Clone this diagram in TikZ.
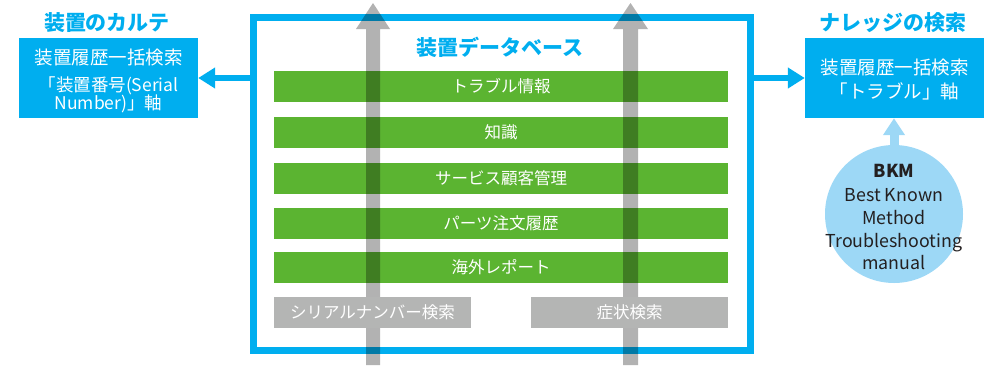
\documentclass[tikz,border=0pt]{standalone}
\usepackage{fontspec}
\setmainfont{Noto Sans CJK JP}
\usetikzlibrary{arrows.meta}
\definecolor{cyanb}{HTML}{00AEEF}
\definecolor{greenb}{HTML}{5BB431}
\definecolor{grayb}{HTML}{B4B5B4}
\definecolor{lightb}{HTML}{9DD8F6}
\definecolor{darktext}{HTML}{231F20}
\tikzset{
  frame/.style={draw=cyanb, line width=7pt, minimum width=497pt, minimum height=333pt, inner sep=0pt},
  bar/.style={fill=greenb, text=white, minimum width=454pt, minimum height=31pt, inner sep=0pt, font=\fontsize{16.5}{20}\selectfont},
  graybox/.style={fill=grayb, text=white, minimum width=197pt, minimum height=31pt, inner sep=0pt, font=\fontsize{16.5}{20}\selectfont},
  bluebox/.style={fill=cyanb, minimum width=179pt, minimum height=80pt, inner sep=0pt},
  boxtext/.style={text=white, anchor=base, inner sep=0pt, font=\fontsize{18.5}{22}\selectfont},
  boxtextsm/.style={text=white, anchor=base, inner sep=0pt, font=\fontsize{17.5}{20}\selectfont},
  bkmtext/.style={text=darktext, anchor=base, inner sep=0pt, font=\fontsize{17.8}{20}\selectfont},
  title/.style={text=cyanb, font=\fontsize{21}{24}\selectfont\bfseries, inner sep=0pt},
  bigarrow/.style={draw=cyanb, line width=6pt, -{Triangle[length=17pt,width=20pt]}},
  grayarrow/.style={fill=black, fill opacity=0.3},
}
\begin{document}
\begin{tikzpicture}[x=1pt,y=-1pt]
\useasboundingbox (0,0) rectangle (989,365);
% main frame
\node[frame] (db) at (501.5,183.5) {};
\node[title] (dbtitle) at (500,47) {装置データベース};
\node[bar] (b1) at (501,86.5) {トラブル情報};
\node[bar] (b2) at (501,132.5) {知識};
\node[bar] (b3) at (501,178.5) {サービス顧客管理};
\node[bar] (b4) at (501,223.5) {パーツ注文履歴};
\node[bar] (b5) at (501,267.5) {海外レポート};
% gray arrows
\fill[grayarrow] (366,365) -- (366,29) -- (356,29) -- (373,3) -- (390,29) -- (380,29) -- (380,365) -- cycle;
\fill[grayarrow] (623,365) -- (623,29) -- (613,29) -- (630.5,3) -- (648,29) -- (638,29) -- (638,365) -- cycle;
\node[graybox] (g1) at (372.5,312.5) {シリアルナンバー検索};
\node[graybox] (g2) at (629.5,312.5) {症状検索};
% left
\node[title] (ltitle) at (107,23) {装置のカルテ};
\node[bluebox] (left) at (108.5,78) {};
\node[boxtext] (l1) at (108.5,64) {装置履歴一括検索};
\node[boxtextsm] (l2) at (108.5,91) {「装置番号(Serial};
\node[boxtextsm] (l3) at (108.5,109) {Number)」軸};
% right
\node[title] (rtitle) at (893,23) {ナレッジの検索};
\node[bluebox] (right) at (894.5,78) {};
\node[boxtext] (r1) at (894.5,74) {装置履歴一括検索};
\node[boxtext] (r2) at (894.5,98.5) {「トラブル」軸};
% connectors
\draw[bigarrow] (db.west |- left.east) -- (left.east);
\draw[bigarrow] (db.east |- right.west) -- (right.west);
% BKM
\node[circle, fill=lightb, minimum size=138pt, inner sep=0pt] (bkm) at (894,214) {};
\node[bkmtext] (k1) at (894,177) {\bfseries BKM};
\node[bkmtext] (k2) at (894,201) {Best Known};
\node[bkmtext] (k3) at (894,224) {Method};
\node[bkmtext] (k4) at (894,247) {Troubleshooting};
\node[bkmtext] (k5) at (894,269) {manual};
\draw[draw=lightb, line width=9pt, -{Triangle[length=17pt,width=21pt]}] (bkm.north) -- (bkm.north |- right.south);
\end{tikzpicture}
\end{document}
